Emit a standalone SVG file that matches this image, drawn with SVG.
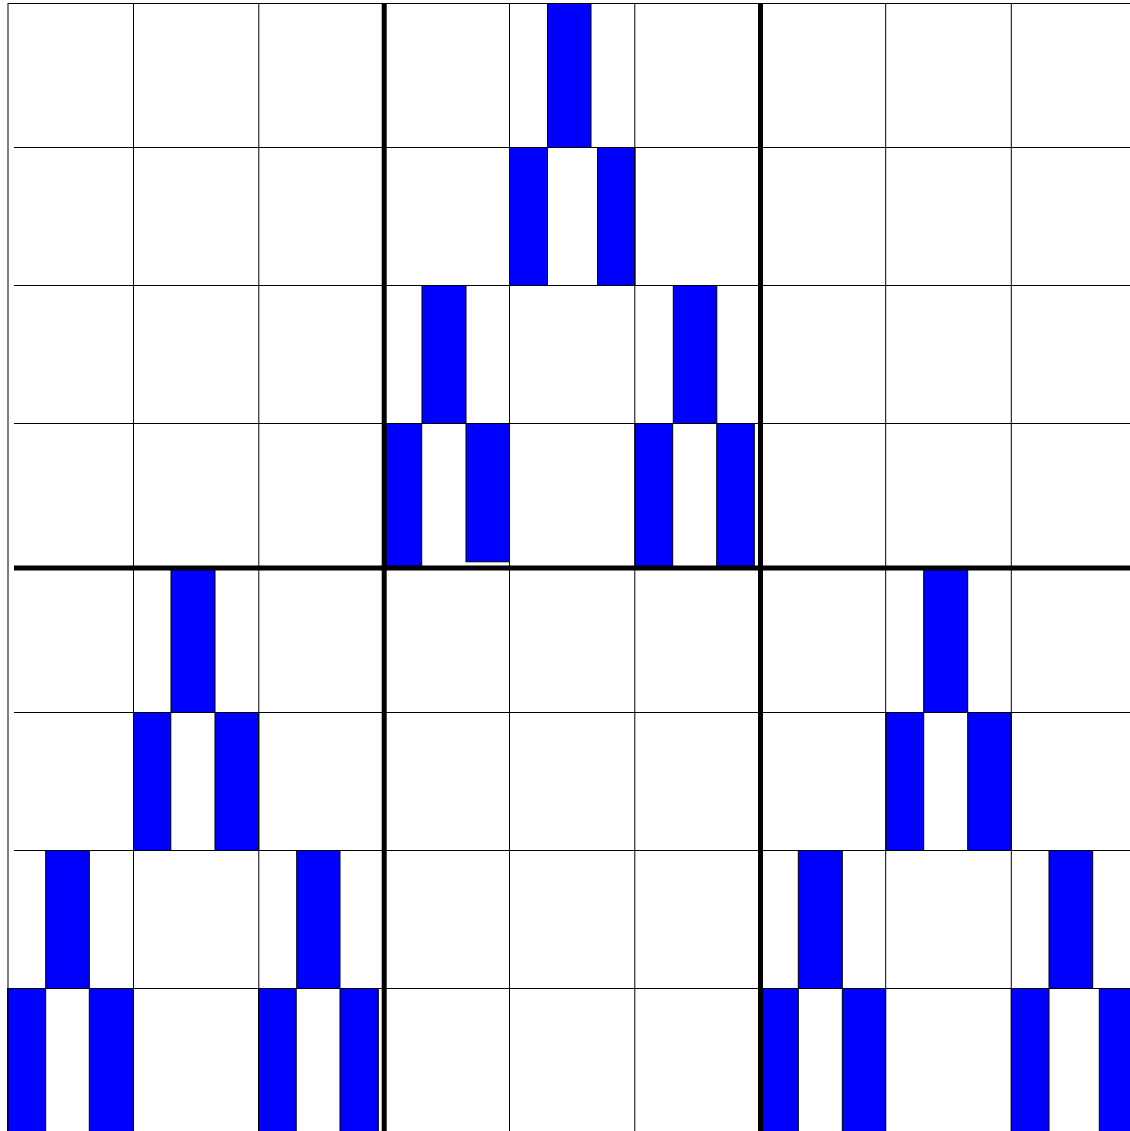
<svg xmlns="http://www.w3.org/2000/svg" width="1130" height="1131" viewBox="0 0 1130 1131">
<style>
.bar{fill:#0000ff;stroke:#000;stroke-width:1}
.thin{stroke:#000;stroke-width:1;fill:none}
.thick{stroke:#000;stroke-width:5;fill:none}
</style>
<rect x="0" y="0" width="1130" height="1131" fill="#fff"/>
<g id="bars">
<!-- top middle block -->
<rect class="bar" x="547.5" y="3.5" width="43.5" height="144"/>
<rect class="bar" x="509.5" y="147.5" width="38" height="138"/>
<rect class="bar" x="597.5" y="147.5" width="37.5" height="138"/>
<rect class="bar" x="422" y="285.5" width="44" height="138"/>
<rect class="bar" x="673.3" y="285.5" width="43.5" height="138"/>
<rect class="bar" x="385" y="423.5" width="36.7" height="143.5"/>
<rect class="bar" x="466" y="423.5" width="43.5" height="138.3"/>
<rect class="bar" x="635" y="423.5" width="37.7" height="144.5"/>
<rect class="bar" x="716.7" y="423.5" width="37.6" height="144.5"/>
<!-- lower left block -->
<rect class="bar" x="171" y="568" width="44" height="144.5"/>
<rect class="bar" x="133.5" y="712.5" width="37.3" height="138"/>
<rect class="bar" x="215" y="712.5" width="43.7" height="138"/>
<rect class="bar" x="45.7" y="850.5" width="43.6" height="138"/>
<rect class="bar" x="296.7" y="850.5" width="43.3" height="138"/>
<rect class="bar" x="7.5" y="988.5" width="38.2" height="145"/>
<rect class="bar" x="89.3" y="988.5" width="44" height="145"/>
<rect class="bar" x="258.5" y="988.5" width="37.7" height="145"/>
<rect class="bar" x="340" y="988.5" width="38.3" height="145"/>
<!-- lower right block -->
<rect class="bar" x="923.7" y="568" width="44" height="144.5"/>
<rect class="bar" x="886" y="712.5" width="37.7" height="138"/>
<rect class="bar" x="967.7" y="712.5" width="43.6" height="138"/>
<rect class="bar" x="798.3" y="850.5" width="44" height="138"/>
<rect class="bar" x="1049" y="850.5" width="43.7" height="138"/>
<rect class="bar" x="761" y="988.5" width="37.3" height="145"/>
<rect class="bar" x="842.3" y="988.5" width="43.3" height="145"/>
<rect class="bar" x="1011.3" y="988.5" width="37.7" height="145"/>
<rect class="bar" x="1099.3" y="988.5" width="40" height="145"/>
</g>
<g id="grid">
<line class="thin" x1="8" y1="3.5" x2="1130" y2="3.5"/>
<line class="thin" x1="14" y1="147.5" x2="1130" y2="147.5"/>
<line class="thin" x1="14" y1="285.5" x2="1130" y2="285.5"/>
<line class="thin" x1="14" y1="423.5" x2="1130" y2="423.5"/>
<line class="thin" x1="14" y1="712.5" x2="1130" y2="712.5"/>
<line class="thin" x1="14" y1="850.5" x2="1130" y2="850.5"/>
<line class="thin" x1="14" y1="988.5" x2="1130" y2="988.5"/>
<line class="thin" x1="8" y1="3" x2="8" y2="1131"/>
<line class="thin" x1="133.5" y1="3" x2="133.5" y2="1131"/>
<line class="thin" x1="258.8" y1="3" x2="258.8" y2="1131"/>
<line class="thin" x1="509.5" y1="3" x2="509.5" y2="1131"/>
<line class="thin" x1="634.8" y1="3" x2="634.8" y2="1131"/>
<line class="thin" x1="885.7" y1="3" x2="885.7" y2="1131"/>
<line class="thin" x1="1011.3" y1="3" x2="1011.3" y2="1131"/>
<line class="thick" x1="14" y1="568" x2="1130" y2="568"/>
<line class="thick" x1="384.2" y1="3" x2="384.2" y2="1131"/>
<line class="thick" x1="760.5" y1="3" x2="760.5" y2="1131"/>
</g>
</svg>
